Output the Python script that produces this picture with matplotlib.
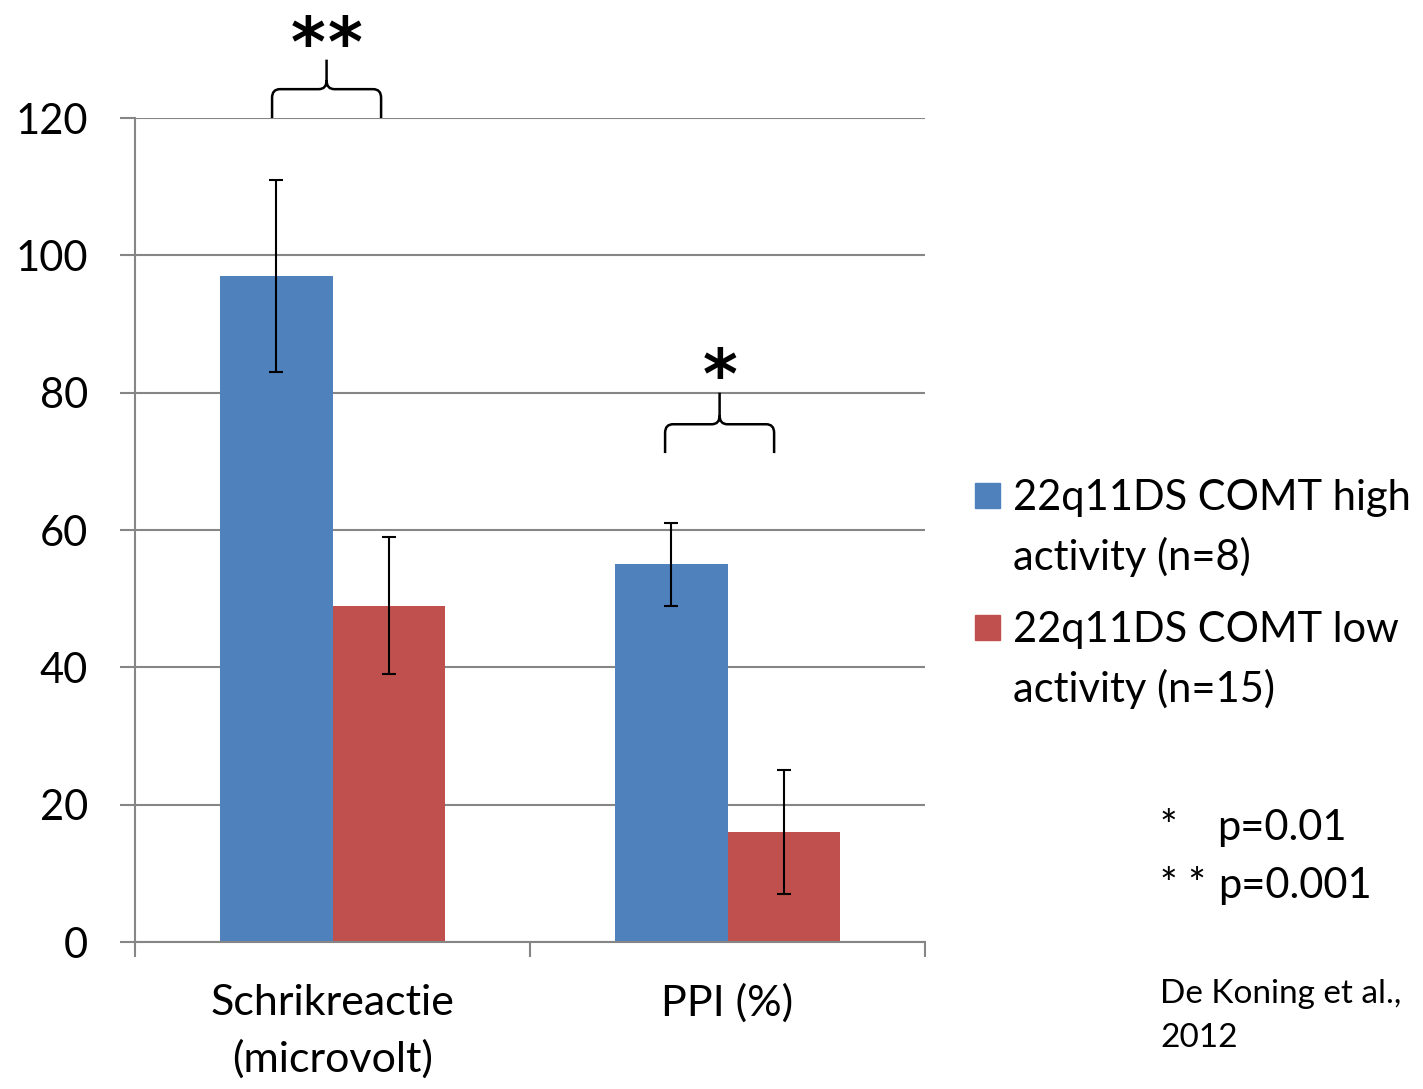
import matplotlib
matplotlib.use('Agg')
import matplotlib.pyplot as plt
import matplotlib.patches as mpatches
from matplotlib.path import Path
import numpy as np

plt.rcParams['font.family'] = ['Lato', 'DejaVu Sans']

categories = ['Schrikreactie\n(microvolt)', 'PPI (%)']
high_vals = [97, 55]
high_err_lo = [83, 49]
high_err_hi = [111, 61]
low_vals = [49, 16]
low_err_lo = [39, 7]
low_err_hi = [59, 25]
series_labels = ['22q11DS COMT high\nactivity (n=8)', '22q11DS COMT low\nactivity (n=15)']
yticks = [0, 20, 40, 60, 80, 100, 120]

blue = '#4f81bd'
red = '#c0504d'
axcol = '#868686'

fig = plt.figure(figsize=(14.23, 10.89), dpi=100)
ax = fig.add_axes([135 / 1423, 1 - 942 / 1089, 790 / 1423, 824 / 1089])

x = np.arange(len(categories))
w = 0.286
hi_err = [np.subtract(high_vals, high_err_lo), np.subtract(high_err_hi, high_vals)]
lo_err = [np.subtract(low_vals, low_err_lo), np.subtract(low_err_hi, low_vals)]
ax.bar(x - w / 2, high_vals, w, color=blue, zorder=2)
ax.bar(x + w / 2, low_vals, w, color=red, zorder=2)
ax.errorbar(x - w / 2, high_vals, yerr=hi_err, fmt='none', ecolor='black', elinewidth=1.5, capsize=5, capthick=1.5, zorder=3)
ax.errorbar(x + w / 2, low_vals, yerr=lo_err, fmt='none', ecolor='black', elinewidth=1.5, capsize=5, capthick=1.5, zorder=3)

ax.set_xlim(-0.5, len(categories) - 0.5)
ax.set_ylim(0, 120)
ax.set_yticks(yticks)
ax.set_yticklabels([str(t) for t in yticks], fontsize=30)
ax.yaxis.grid(True, color=axcol, linewidth=1.5, zorder=0)
ax.set_axisbelow(True)
ax.set_xticks(np.arange(-0.5, len(categories), 1.0))
ax.set_xticklabels([])
ax.set_xticks(x, minor=True)
ax.set_xticklabels(categories, minor=True, fontsize=31, linespacing=1.55)
ax.tick_params(axis='x', which='minor', length=0, pad=30)
ax.tick_params(axis='x', which='major', length=11, width=1.5, color=axcol)
ax.tick_params(axis='y', length=11, width=1.5, color=axcol, pad=23)
for s in ['top', 'right']:
    ax.spines[s].set_visible(False)
for s in ['left', 'bottom']:
    ax.spines[s].set_color(axcol)
    ax.spines[s].set_linewidth(1.5)


def brace(x0, x1, yb, yh, ya):
    xm = (x0 + x1) / 2
    r = 0.02
    dy = (yh - yb) * 0.3
    verts = [(x0, yb), (x0, yh - dy), (x0, yh), (x0 + r, yh),
             (xm - r, yh), (xm, yh), (xm, yh + dy), (xm, ya)]
    codes = [Path.MOVETO, Path.LINETO, Path.CURVE3, Path.CURVE3,
             Path.LINETO, Path.CURVE3, Path.CURVE3, Path.LINETO]
    verts2 = [(x1, yb), (x1, yh - dy), (x1, yh), (x1 - r, yh),
              (xm + r, yh), (xm, yh), (xm, yh + dy)]
    codes2 = [Path.MOVETO, Path.LINETO, Path.CURVE3, Path.CURVE3,
              Path.LINETO, Path.CURVE3, Path.CURVE3]
    p = Path(verts + verts2, codes + codes2)
    ax.add_patch(mpatches.PathPatch(p, fill=False, lw=1.8, color='black', clip_on=False, zorder=4))
    return xm


star_kw = dict(ha='center', va='baseline', fontsize=48, fontweight='bold',
               family='DejaVu Sans', clip_on=False)
m1 = brace(-0.153, 0.123, 120, 124.2, 128.5)
ax.text(m1 - 0.048, 127.6, '*', **star_kw)
ax.text(m1 + 0.048, 127.6, '*', **star_kw)
m2 = brace(0.842, 1.118, 71.2, 75.4, 80.0)
ax.text(m2, 79.2, '*', **star_kw)

# legend
for i, (lab, col) in enumerate(zip(series_labels, [blue, red])):
    ytop = 483 + i * 132
    fig.patches.append(mpatches.Rectangle((975 / 1423, 1 - (ytop + 25) / 1089), 25 / 1423, 25 / 1089,
                                          transform=fig.transFigure, color=col))
    for j, line in enumerate(lab.split('\n')):
        fig.text(1013 / 1423, 1 - (ytop + 27 + j * 60) / 1089, line, fontsize=30, va='baseline', ha='left')

fig.text(1160 / 1423, 1 - 840 / 1089, '*', fontsize=30, va='baseline')
fig.text(1217 / 1423, 1 - 840 / 1089, 'p=0.01', fontsize=30, va='baseline')
fig.text(1160 / 1423, 1 - 898 / 1089, '* *', fontsize=30, va='baseline')
fig.text(1218 / 1423, 1 - 898 / 1089, 'p=0.001', fontsize=30, va='baseline')
fig.text(1160 / 1423, 1 - 1003 / 1089, 'De Koning et al.,', fontsize=24, va='baseline')
fig.text(1160 / 1423, 1 - 1047 / 1089, '2012', fontsize=24, va='baseline')

fig.savefig('out.png', dpi=100)
